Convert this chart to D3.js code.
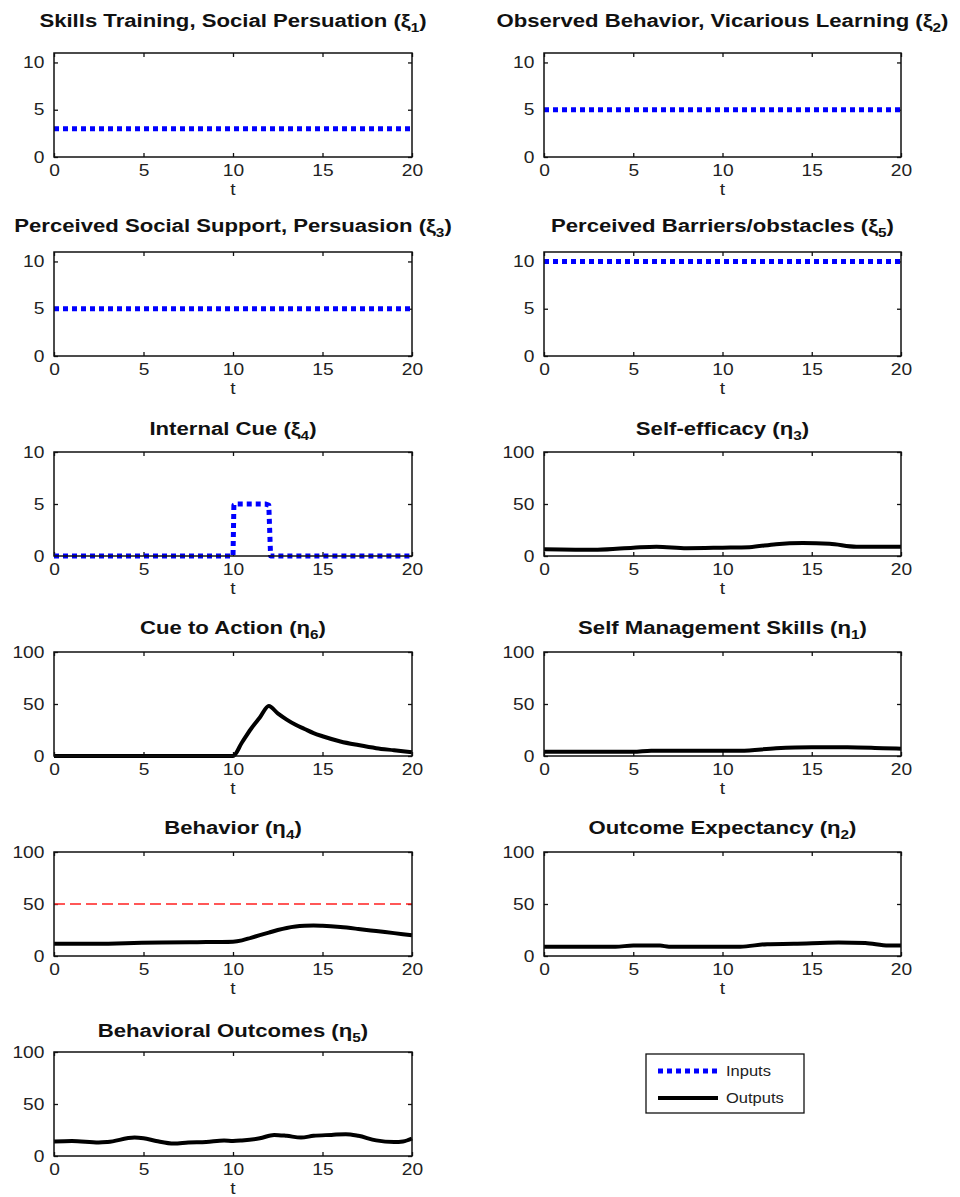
<!DOCTYPE html>
<html>
<head>
<meta charset="utf-8">
<script src="https://cdn.jsdelivr.net/npm/d3@7"></script>
<style>
  body { margin: 0; background: #fff; }
  svg { font-family: "Liberation Sans", Arial, sans-serif; }
</style>
</head>
<body>
<svg id="chart" width="960" height="1197"></svg>
<script>
// time grids
var tConst = [0, 20];
var tStep = [0, 10, 10.05, 10.2, 11.8, 12, 12.1, 20];
var tCue = [0, 10, 10.5, 11, 11.5, 12, 12.5, 13, 13.5, 14, 14.5, 15, 16, 17, 18, 19, 20];
var tBeh = [0, 2, 4, 6, 8, 10, 10.5, 11, 11.5, 12, 12.5, 13, 13.5, 14, 14.5, 15, 16, 17, 18, 19, 20];
var tOut = [0, 1, 2.5, 3, 4.5, 5, 5.7, 6.7, 7.5, 8.5, 9.5, 10, 10.5, 11.5, 12.3, 13, 13.8, 14.5, 15.5, 16.3, 17, 18, 19, 19.5, 20];
var tEff = [0, 3, 5, 6.3, 8, 10, 11.5, 13, 14.5, 16, 17.5, 20];
var tMan = [0, 5, 6, 10, 11, 13, 15, 17, 19, 20];
var tExp = [0, 4, 5, 6.5, 7, 11, 12.5, 14, 16.5, 18, 19.3, 20];

// inputs
var xi1 = [3, 3];
var xi2 = [5, 5];
var xi3 = [5, 5];
var xi5 = [10, 10];
var xi4 = [0, 0, 4.9, 5, 5, 4.9, 0, 0];

// outputs
var eta6 = [0, 0, 13, 26, 37, 48, 41, 35, 30, 26, 22, 19, 14, 10.5, 7.5, 5.5, 3.5];
var eta4 = [11.8, 11.8, 12.3, 13, 13.3, 13.8, 15, 17.5, 20, 22.5, 25, 27, 28.3, 29, 29.3, 29, 27.8, 26, 24, 22, 20];
var eta5 = [14, 14.5, 13, 13.5, 17.7, 17, 14.5, 12, 13, 13.5, 15, 14.5, 15, 17, 20.3, 19.4, 17.7, 19.4, 20.3, 21, 19.4, 15, 13.5, 14, 16.8];
var eta3 = [6.5, 6, 8, 9, 7.5, 8, 8.5, 11.4, 12.4, 11.8, 9, 9];
var eta1 = [4, 4, 5, 5, 5, 7.5, 8.5, 8.5, 7.5, 7];
var eta2 = [9, 9, 10, 10, 9, 9, 11.4, 11.8, 13, 12.4, 10, 10];
var goal = [50, 50];

var yTicksSmall = [0, 5, 10];
var yTicksBig = [0, 50, 100];
var xTicks = [0, 5, 10, 15, 20];

var colLeft = [54, 412];
var colRight = [544, 901];
var rowTops = [53, 252, 452, 652, 852, 1052];
var titleBase = [27, 232, 435, 634, 834, 1037];
var plotH = 104;
var stretch = 1.2; // the source figure's text is wide
var titleStretch = 1.23;

var panels = [
  {title: "Skills Training, Social Persuation (", sym: "ξ", sub: "1", col: 0, row: 0, ymax: 11, yt: yTicksSmall, t: tConst, v: xi1, kind: "in"},
  {title: "Observed Behavior, Vicarious Learning (", sym: "ξ", sub: "2", col: 1, row: 0, ymax: 11, yt: yTicksSmall, t: tConst, v: xi2, kind: "in"},
  {title: "Perceived Social Support, Persuasion (", sym: "ξ", sub: "3", col: 0, row: 1, ymax: 11, yt: yTicksSmall, t: tConst, v: xi3, kind: "in"},
  {title: "Perceived Barriers/obstacles (", sym: "ξ", sub: "5", col: 1, row: 1, ymax: 11, yt: yTicksSmall, t: tConst, v: xi5, kind: "in"},
  {title: "Internal Cue (", sym: "ξ", sub: "4", col: 0, row: 2, ymax: 10, yt: yTicksSmall, t: tStep, v: xi4, kind: "in"},
  {title: "Self-efficacy (", sym: "η", sub: "3", col: 1, row: 2, ymax: 100, yt: yTicksBig, t: tEff, v: eta3, kind: "out"},
  {title: "Cue to Action (", sym: "η", sub: "6", col: 0, row: 3, ymax: 100, yt: yTicksBig, t: tCue, v: eta6, kind: "out"},
  {title: "Self Management Skills (", sym: "η", sub: "1", col: 1, row: 3, ymax: 100, yt: yTicksBig, t: tMan, v: eta1, kind: "out"},
  {title: "Behavior (", sym: "η", sub: "4", col: 0, row: 4, ymax: 100, yt: yTicksBig, t: tBeh, v: eta4, kind: "out", goal: goal},
  {title: "Outcome Expectancy (", sym: "η", sub: "2", col: 1, row: 4, ymax: 100, yt: yTicksBig, t: tExp, v: eta2, kind: "out"},
  {title: "Behavioral Outcomes (", sym: "η", sub: "5", col: 0, row: 5, ymax: 100, yt: yTicksBig, t: tOut, v: eta5, kind: "out"}
];

var svg = d3.select("#chart");

function drawPanel(p) {
  var xr = p.col === 0 ? colLeft : colRight;
  var top = rowTops[p.row];
  var x = d3.scaleLinear().domain([0, 20]).range(xr);
  var y = d3.scaleLinear().domain([0, p.ymax]).range([top + plotH, top]);
  var g = svg.append("g");

  // title
  var title = g.append("text")
    .attr("transform", "translate(" + (xr[0] + xr[1]) / 2 + "," + titleBase[p.row] + ") scale(" + titleStretch + ",1)")
    .attr("text-anchor", "middle")
    .attr("font-size", 18)
    .attr("font-weight", "bold")
    .attr("fill", "#111");
  title.append("tspan").text(p.title + p.sym);
  title.append("tspan").attr("font-size", 12.5).attr("dy", 5).text(p.sub);
  title.append("tspan").attr("dy", -5).text(")");

  // axes with inward ticks on all four sides
  var ax = function(a) {
    a.select(".domain").remove();
    a.selectAll("text").attr("font-size", 16).attr("fill", "#222")
      .attr("transform", "scale(" + stretch + ",1)");
    a.selectAll("line").attr("stroke", "#111").attr("stroke-width", 1.3);
  };
  g.append("g").attr("transform", "translate(0," + (top + plotH) + ")")
    .call(d3.axisBottom(x).tickValues(xTicks).tickSizeInner(-4).tickSizeOuter(0).tickPadding(8))
    .call(ax);
  g.append("g").attr("transform", "translate(0," + top + ")")
    .call(d3.axisTop(x).tickValues(xTicks).tickSizeInner(-4).tickSizeOuter(0).tickFormat(""))
    .call(ax);
  g.append("g").attr("transform", "translate(" + xr[0] + ",0)")
    .call(d3.axisLeft(y).tickValues(p.yt).tickSizeInner(-4).tickSizeOuter(0).tickPadding(8))
    .call(ax);
  g.append("g").attr("transform", "translate(" + xr[1] + ",0)")
    .call(d3.axisRight(y).tickValues(p.yt).tickSizeInner(-4).tickSizeOuter(0).tickFormat(""))
    .call(ax);

  g.append("text")
    .attr("transform", "translate(" + (xr[0] + xr[1]) / 2 + "," + (top + plotH + 38) + ") scale(" + stretch + ",1)")
    .attr("text-anchor", "middle")
    .attr("font-size", 16)
    .attr("fill", "#222")
    .text("t");

  var line = d3.line()
    .x(function(d) { return x(d[0]); })
    .y(function(d) { return y(d[1]); })
    .curve(p.kind === "in" ? d3.curveLinear : d3.curveMonotoneX);

  if (p.goal) {
    g.append("path")
      .datum(d3.zip(tConst, p.goal))
      .attr("d", line)
      .attr("fill", "none")
      .attr("stroke", "#ff2020")
      .attr("stroke-width", 1.6)
      .attr("stroke-dasharray", "11,5");
  }

  g.append("path")
    .datum(d3.zip(p.t, p.v))
    .attr("d", line)
    .attr("fill", "none")
    .attr("stroke", p.kind === "in" ? "#0000ff" : "#000")
    .attr("stroke-width", p.kind === "in" ? 5 : 4)
    .attr("stroke-dasharray", p.kind === "in" ? "5,4" : null)
    .attr("stroke-linejoin", "round");

  g.append("rect")
    .attr("x", xr[0]).attr("y", top)
    .attr("width", xr[1] - xr[0]).attr("height", plotH)
    .attr("fill", "none")
    .attr("stroke", "#111")
    .attr("stroke-width", 1.5);
}

panels.forEach(drawPanel);

// legend
var legendItems = [
  {label: "Inputs", color: "#0000ff", width: 5, dash: "5,4"},
  {label: "Outputs", color: "#000", width: 4, dash: null}
];
var lg = svg.append("g");
lg.append("rect")
  .attr("x", 646).attr("y", 1054)
  .attr("width", 158).attr("height", 59)
  .attr("fill", "#fff")
  .attr("stroke", "#111")
  .attr("stroke-width", 1.3);
legendItems.forEach(function(d, i) {
  var yy = 1071 + i * 27;
  lg.append("line")
    .attr("x1", 658).attr("x2", 718)
    .attr("y1", yy).attr("y2", yy)
    .attr("stroke", d.color)
    .attr("stroke-width", d.width)
    .attr("stroke-dasharray", d.dash);
  lg.append("text")
    .attr("transform", "translate(726," + (yy + 5) + ") scale(1.1,1)")
    .attr("font-size", 15)
    .attr("fill", "#222")
    .text(d.label);
});
</script>
</body>
</html>
